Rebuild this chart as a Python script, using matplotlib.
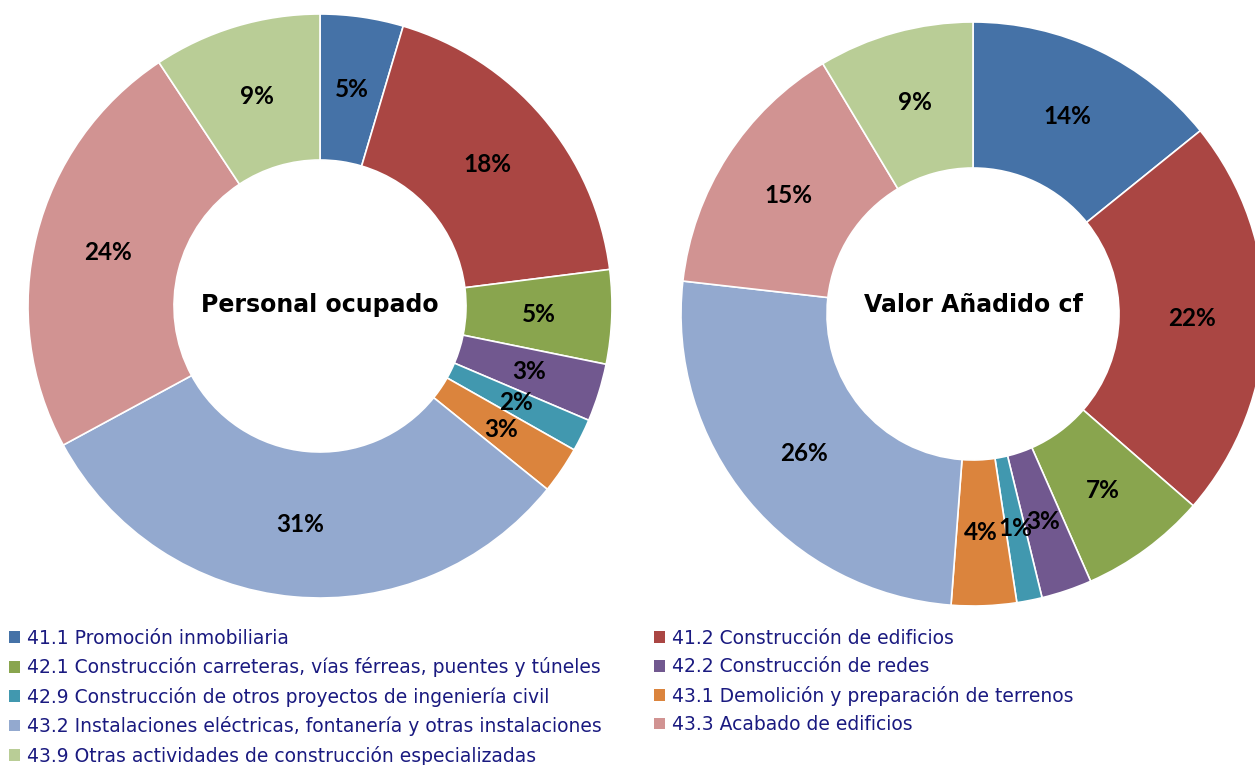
import matplotlib

matplotlib.use("Agg")
import matplotlib.pyplot as plt
from matplotlib.patches import Patch

# Sectores CNAE de la construcción
sectores = [
    "41.1 Promoción inmobiliaria",
    "41.2 Construcción de edificios",
    "42.1 Construcción carreteras, vías férreas, puentes y túneles",
    "42.2 Construcción de redes",
    "42.9 Construcción de otros proyectos de ingeniería civil",
    "43.1 Demolición y preparación de terrenos",
    "43.2 Instalaciones eléctricas, fontanería y otras instalaciones",
    "43.3 Acabado de edificios",
    "43.9 Otras actividades de construcción especializadas",
]
colores = ["#4572A7", "#AA4643", "#89A54E", "#71588F", "#4198AF",
           "#DB843D", "#93A9CF", "#D19392", "#B9CD96"]

# porcentajes estimados
personal_ocupado = [4.6, 18.4, 5.2, 3.2, 1.8, 2.6, 31.3, 23.6, 9.3]
valor_anadido = [14.2, 22.2, 7.0, 2.8, 1.4, 3.6, 25.6, 14.6, 8.6]

W, H = 1255, 765
fig = plt.figure(figsize=(W / 100, H / 100), dpi=100)


def donut(cx, cy, r, valores, titulo, titulo_y):
    # cx, cy, r en píxeles (y desde arriba)
    ax = fig.add_axes([(cx - r) / W, (H - cy - r) / H, 2 * r / W, 2 * r / H])
    ax.pie(
        valores,
        colors=colores,
        startangle=90,
        counterclock=False,
        radius=1,
        autopct=lambda p: f"{p:.0f}%",
        pctdistance=0.75,
        wedgeprops=dict(width=0.5, edgecolor="white", linewidth=1.2),
        textprops=dict(fontsize=17.5, fontweight="bold", color="black",
                       family="Lato"),
    )
    ax.text(0, (cy - titulo_y) / r, titulo, ha="center", va="center",
            fontsize=17, fontweight="bold", family="DejaVu Sans")
    ax.set_xlim(-1, 1)
    ax.set_ylim(-1, 1)
    ax.axis("off")


donut(320, 306, 292, personal_ocupado, "Personal ocupado", 305)
donut(973, 314, 292, valor_anadido, "Valor Añadido cf", 305)

handles = [Patch(facecolor=c, edgecolor="none") for c in colores]
leg_kw = dict(frameon=False, fontsize=13.5, handlelength=0.6,
              handleheight=0.6, handletextpad=0.35, labelspacing=0.5,
              borderaxespad=0, borderpad=0, labelcolor="#1A1A80")
idx1 = [0, 2, 4, 6, 8]
idx2 = [1, 3, 5, 7]
fig.legend([handles[i] for i in idx1], [sectores[i] for i in idx1],
           loc="upper left", bbox_to_anchor=(9 / W, 1 - 629 / H), **leg_kw)
fig.legend([handles[i] for i in idx2], [sectores[i] for i in idx2],
           loc="upper left", bbox_to_anchor=(654 / W, 1 - 629 / H), **leg_kw)

fig.savefig("out.png", dpi=100)
plt.close(fig)
